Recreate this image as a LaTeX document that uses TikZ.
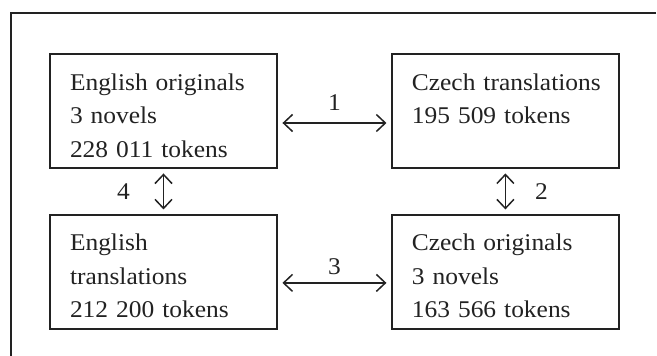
\documentclass[tikz,border=0pt]{standalone}
\usepackage{fontspec}
\setmainfont{Liberation Serif}[FakeStretch=1.06]
\usetikzlibrary{positioning, arrows.meta}
\definecolor{inkgray}{HTML}{222222}
\newcommand\boxfont{\fontsize{24}{33.5}\selectfont\hyphenpenalty=10000\relax}

\begin{document}
\begin{tikzpicture}[
  x=1pt, y=1pt,
  node distance=45pt and 113pt,
  box/.style={rectangle, draw=inkgray, line width=1.9pt, text=inkgray, font=\boxfont, text width=187pt, align=left, inner xsep=20pt, inner ysep=10pt, text height=26pt, text depth=68pt},
  arrow/.style={{Straight Barb[length=9pt,width=17pt]}-{Straight Barb[length=9pt,width=17pt]}, draw=inkgray, line width=1.5pt, shorten <=4.5pt, shorten >=4.5pt},
  lab/.style={text=inkgray, font=\fontsize{24}{28}\selectfont, inner sep=0pt}
]
  \useasboundingbox (0,0) rectangle (657,-356);
  % outer frame
  \draw[inkgray, line width=1.4pt] (656,-13) -| (11,-356);

  \node[box] (enorig) at (163.5,-111) {English originals\\3 novels\\228 011 tokens};
  \node[box, right=of enorig] (cztrans) {\mbox{Czech translations}\\195 509 tokens};
  \node[box, below=of enorig] (entrans) {English\\translations\\212 200 tokens};
  \node[box, right=of entrans] (czorig) {Czech originals\\3 novels\\163 566 tokens};

  \draw[arrow] ([yshift=-12pt]enorig.east) -- ([yshift=-12pt]cztrans.west) node[lab, midway, above=12pt] (n1) {1};
  \draw[arrow] (cztrans) -- (czorig) node[lab, midway, right=29pt] (n2) {2};
  \draw[arrow] ([yshift=-11pt]entrans.east) -- ([yshift=-11pt]czorig.west) node[lab, midway, above=7pt] (n3) {3};
  \draw[arrow] (enorig) -- (entrans) node[lab, midway, left=33pt] (n4) {4};
\end{tikzpicture}
\end{document}
